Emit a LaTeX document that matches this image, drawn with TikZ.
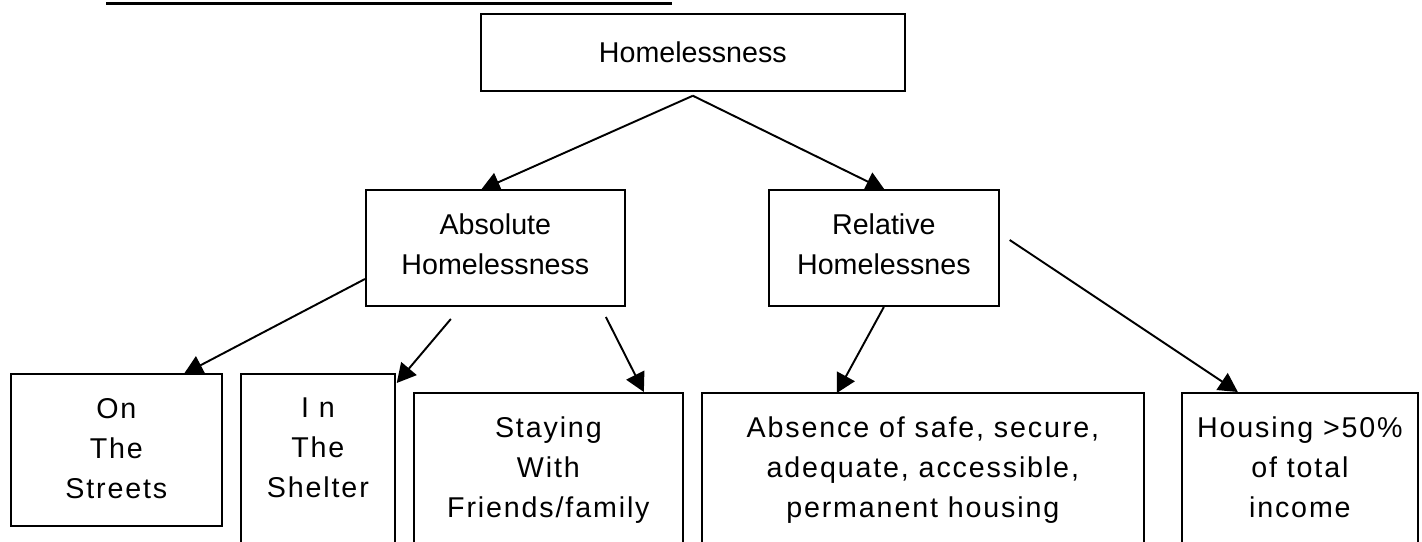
\documentclass[tikz,border=0pt]{standalone}
\usepackage{fontspec}
\setmainfont{Liberation Sans}
\newfontfamily\spacedfont[LetterSpace=6.5]{Liberation Sans}
\usetikzlibrary{arrows.meta,calc,backgrounds}

\begin{document}
\begin{tikzpicture}[x=0.02cm,y=-0.02cm,
	box/.style={draw,line width=1pt,fill=white,align=center,anchor=north west,inner xsep=0pt,inner ysep=0.48cm,font={\fontsize{16.3}{22.76}\selectfont}},
	lowbox/.style={box,font={\spacedfont\fontsize{16.3}{22.76}\selectfont}},
	arr/.style={line width=1.1pt,-{Triangle[length=0.38cm,width=0.4cm]}}]
	\useasboundingbox (0,0) rectangle (1422,541);
	\clip (0,0) rectangle (1422,541);
	\draw[line width=1.8pt] (106,3.3) -- (672,3.3);
	% top level
	\node[box,minimum width=8.48cm,minimum height=1.54cm] (top) at (480,13) {Homelessness};
	\node[box,minimum width=5.18cm,minimum height=2.32cm,text depth=0.15cm] (abs) at (365,189) {Absolute\\Homelessness};
	\node[box,minimum width=4.6cm,minimum height=2.32cm,text depth=0.15cm] (rel) at (768,189) {Relative\\Homelessnes};
	% bottom level
	\node[lowbox,minimum width=4.22cm,minimum height=3.04cm,text depth=0.07cm] (streets) at (10,373) {On\\The\\Streets};
	\node[lowbox,minimum width=3.08cm,text depth=4cm] (shelter) at (240,373) {I n\\The\\Shelter};
	\node[lowbox,minimum width=5.38cm,text depth=4cm] (staying) at (413,392) {Staying\\With\\Friends/family};
	\node[lowbox,minimum width=8.84cm,text depth=4cm] (absence) at (701,392) {Absence of safe, secure,\\adequate, accessible,\\permanent housing};
	\node[lowbox,minimum width=4.72cm,text depth=4cm] (housing) at (1181,392) {Housing >50\%\\of total\\income};
	\begin{scope}[on background layer]
		\draw[arr] ($(top.south)+(0,4)$) -- ($(abs.north)+(-14.5,1)$);
		\draw[arr] ($(top.south)+(0,4)$) -- ($(rel.north)+(1,1)$);
		\draw[arr] ($(abs.west)+(0,31)$) -- ($(streets.north)+(67.5,1)$);
		\draw[arr] ($(abs.south)+(-44.5,12)$) -- ($(shelter.north east)+(1,10)$);
		\draw[arr] ($(abs.south)+(110.5,10)$) -- ($(staying.north)+(95.5,0)$);
		\draw[arr] (rel.south) -- ($(absence.north)+(-86,1)$);
		\draw[arr] ($(rel.east)+(10,-8)$) -- ($(housing.north)+(-62,0)$);
	\end{scope}
\end{tikzpicture}
\end{document}
